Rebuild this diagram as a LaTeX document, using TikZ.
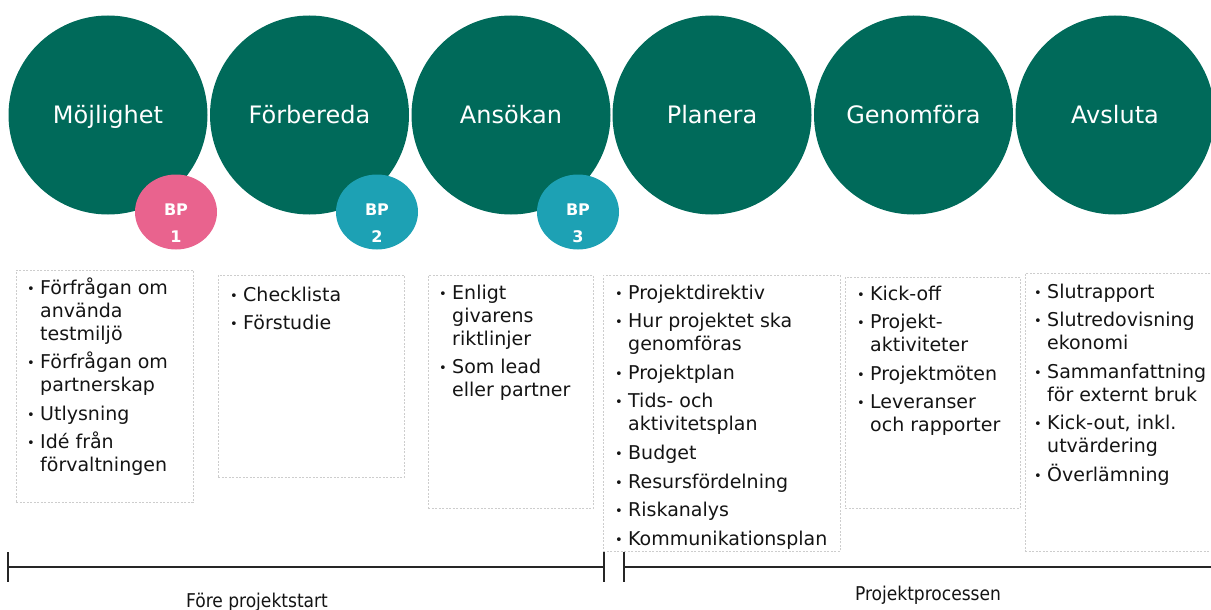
\documentclass[tikz,border=0pt]{standalone}
\usepackage{fontspec}
\setmainfont{DejaVu Sans}
\newfontfamily\condfont{DejaVu Sans Condensed}
\usepackage{tikz}
\usetikzlibrary{shapes,positioning}
\usepackage{xcolor}
\definecolor{phgreen}{RGB}{0,106,90}
\definecolor{bppink}{RGB}{233,99,142}
\definecolor{bpteal}{RGB}{29,161,180}
\definecolor{boxgray}{RGB}{205,205,205}
\definecolor{txtdark}{RGB}{20,20,20}
\tikzstyle{phase} = [circle, minimum size=199pt, inner sep=0pt, fill=phgreen, text=white, text height=18pt, text depth=0pt, font=\fontsize{24}{28}\selectfont]
\tikzstyle{bp} = [ellipse, minimum width=82pt, minimum height=75pt, inner sep=0pt]
\tikzstyle{bptext} = [text=white, align=center, font=\bfseries\fontsize{16}{27}\selectfont]
\tikzstyle{listbox} = [rectangle, draw=boxgray, dash pattern=on 2pt off 1.5pt, line width=0.8pt, anchor=north west, inner sep=0pt]
\tikzstyle{listtext} = [anchor=base west, inner sep=0pt, text=txtdark, font=\fontsize{19}{23}\selectfont]
\tikzstyle{timeline} = [line width=1.8pt, color=black!85]
\tikzstyle{tick} = [line width=1.2pt, color=black!85]
\tikzstyle{spanlabel} = [text=txtdark, font=\condfont\fontsize{19}{22}\selectfont]
% bullet item, continuation lines hang under the text
\newcommand{\itm}[1]{\par\noindent\hangindent=13pt\hangafter=1%
  \makebox[13pt][l]{\fontsize{13}{13}\selectfont\raisebox{1pt}{•}}{\let\\\newline #1}}
\newcommand{\itemlist}[1]{\parbox[t]{215pt}{\raggedright\setlength{\parskip}{5.6pt}#1}}

\begin{document}
\begin{tikzpicture}[x=1pt, y=-1pt]
\useasboundingbox (0,0) rectangle (1211,610);
\clip (0,0) rectangle (1211,610);
% phases
\node (mojl) [phase] at (108,115) {Möjlighet};
\node (forb) [phase] at (309.5,115) {Förbereda};
\node (anso) [phase] at (511,115) {Ansökan};
\node (plan) [phase] at (712,115) {Planera};
\node (genf) [phase] at (913.5,115) {Genomföra};
\node (avsl) [phase] at (1115,115) {Avsluta};

% beslutspunkter
\node (bp1) [bp, fill=bppink] at (176,212) {};
\node (bp2) [bp, fill=bpteal] at (377,212) {};
\node (bp3) [bp, fill=bpteal] at (578,212) {};
\node (bp1t) [bptext] at ([yshift=-11.5pt]bp1.center) {BP\\1};
\node (bp2t) [bptext] at ([yshift=-11.5pt]bp2.center) {BP\\2};
\node (bp3t) [bptext] at ([yshift=-11.5pt]bp3.center) {BP\\3};

% boxes
\node (box1) [listbox, minimum width=177pt, minimum height=232pt] at (16,270) {};
\node (box2) [listbox, minimum width=186pt, minimum height=202pt] at (218,275) {};
\node (box3) [listbox, minimum width=165pt, minimum height=233pt] at (428,275) {};
\node (box4) [listbox, minimum width=237pt, minimum height=276pt] at (603,275) {};
\node (box5) [listbox, minimum width=175pt, minimum height=231pt] at (845,277) {};
\node (box6) [listbox, minimum width=195pt, minimum height=278pt] at (1025,273) {};

\node (list1) [listtext] at ([shift={(11,24)}]box1.north west) {\itemlist{%
  \itm{Förfrågan om\\använda\\testmiljö}
  \itm{Förfrågan om\\partnerskap}
  \itm{Utlysning}
  \itm{Idé från\\förvaltningen}}};
\node (list2) [listtext] at ([shift={(12,26)}]box2.north west) {\itemlist{%
  \itm{Checklista}
  \itm{Förstudie}}};
\node (list3) [listtext] at ([shift={(11,24)}]box3.north west) {\itemlist{%
  \itm{Enligt\\givarens\\riktlinjer}
  \itm{Som lead\\eller partner}}};
\node (list4) [listtext] at ([shift={(12,24)}]box4.north west) {\itemlist{%
  \itm{Projektdirektiv}
  \itm{Hur projektet ska\\genomföras}
  \itm{Projektplan}
  \itm{Tids- och\\aktivitetsplan}
  \itm{Budget}
  \itm{Resursfördelning}
  \itm{Riskanalys}
  \itm{Kommunikationsplan}}};
\node (list5) [listtext] at ([shift={(12,23)}]box5.north west) {\itemlist{%
  \itm{Kick-off}
  \itm{Projekt-\\aktiviteter}
  \itm{Projektmöten}
  \itm{Leveranser\\och rapporter}}};
\node (list6) [listtext] at ([shift={(9,25)}]box6.north west) {\itemlist{%
  \itm{Slutrapport}
  \itm{Slutredovisning\\ekonomi}
  \itm{Sammanfattning\\för externt bruk}
  \itm{Kick-out, inkl.\\utvärdering}
  \itm{Överlämning}}};

% time line
\coordinate (t0) at (8,567);
\coordinate (t1) at (604,567);
\coordinate (t2) at (624,567);
\coordinate (t3) at (1211,567);
\draw[timeline] (t0) -- (t1);
\draw[timeline] (t2) -- (t3);
\foreach \c in {t0,t1,t2}
  \draw[tick] ([yshift=15pt]\c) -- ([yshift=-15pt]\c);

\node (pre) [spanlabel] at (257,602) {Före projektstart};
\node (proj) [spanlabel] at (928,595) {Projektprocessen};
\end{tikzpicture}
\end{document}
